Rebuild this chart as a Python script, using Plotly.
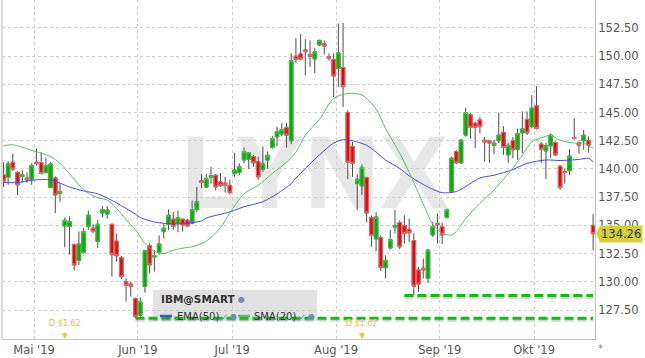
import pandas as pd
import plotly.graph_objects as go

# ---------------- data ----------------
holidays = ["2019-05-27", "2019-07-04", "2019-09-02"]
dates = [d for d in pd.bdate_range("2019-04-22", "2019-10-17")
         if d.strftime("%Y-%m-%d") not in holidays]

opens = [139.5, 139.25, 140.6, 139.7, 139.35, 139.2, 139.1, 140.6, 140.55, 139.7,
         138.35, 139.2, 137.85, 134.95, 134.9, 133.3, 131.9, 132.6, 134.9, 134.75,
         133.6, 136.1, 136.0, 135.1, 133.6, 132.15, 130.0, 129.8, 128.5, 127.05,
         129.6, 133.2, 132.2, 132.6, 134.45, 135.1, 135.55, 135.15, 135.55, 135.45,
         135.2, 136.4, 138.95, 138.4, 139.25, 139.45, 138.85, 138.75, 138.55, 139.6,
         139.7, 140.8, 140.85, 141.1, 140.65, 139.98, 140.8, 141.9, 142.85, 143.1,
         143.65, 142.5, 150.0, 150.2, 150.55, 150.15, 149.75, 151.0, 151.1, 149.95,
         149.7, 148.9, 149.0, 145.0, 142.0, 138.7, 138.5, 139.25, 135.7, 133.8,
         133.9, 131.25, 133.0, 134.85, 135.25, 135.0, 134.65, 133.65, 131.05, 131.2,
         130.3, 134.15, 135.15, 134.9, 135.7, 138.0, 141.55, 140.55, 143.0, 144.8,
         144.05, 144.35, 142.55, 142.5, 142.1, 142.5, 143.25, 141.25, 142.5, 141.75,
         143.2, 144.4, 143.75, 145.6, 142.2, 141.6, 142.05, 142.35, 140.25, 139.75,
         139.85, 142.8, 142.3, 142.5, 142.5, 135.0]
highs = [140.6, 140.7, 141.35, 139.8, 139.9, 139.7, 140.5, 141.8, 141.5, 141.0,
         140.6, 139.35, 138.75, 135.7, 135.8, 133.4, 134.45, 134.75, 136.3, 135.1,
         135.5, 136.7, 136.7, 135.1, 134.25, 132.3, 130.3, 130.0, 128.6, 128.6,
         132.8, 133.4, 132.8, 134.1, 135.2, 136.4, 136.2, 136.3, 135.6, 135.6,
         137.2, 138.4, 139.55, 139.55, 140.2, 139.55, 139.65, 139.3, 139.05, 141.45,
         140.5, 141.9, 141.5, 141.25, 141.1, 142.0, 141.55, 142.95, 143.75, 144.05,
         144.1, 150.25, 151.6, 151.95, 151.5, 151.4, 150.7, 151.45, 151.4, 150.25,
         150.25, 152.9, 152.95, 145.2, 142.4, 139.55, 140.4, 139.3, 135.9, 136.2,
         134.1, 132.35, 134.6, 136.35, 135.45, 135.9, 135.6, 134.3, 131.3, 132.05,
         132.9, 135.3, 136.05, 135.25, 136.5, 141.1, 141.7, 142.65, 145.45, 144.95,
         144.2, 144.6, 142.85, 142.6, 142.6, 145.0, 143.8, 142.35, 142.85, 143.6,
         145.1, 145.1, 146.55, 147.35, 142.4, 142.3, 143.15, 142.45, 140.35, 140.05,
         141.75, 144.5, 142.45, 143.45, 142.9, 136.0]
lows = [138.4, 138.6, 139.8, 137.7, 138.75, 138.8, 138.6, 140.3, 139.5, 139.6,
        138.3, 136.1, 137.1, 133.05, 132.4, 131.0, 131.5, 132.5, 134.6, 134.3,
        133.0, 135.7, 135.6, 130.45, 131.8, 130.25, 128.25, 128.7, 126.78, 126.9,
        129.05, 130.75, 130.9, 132.4, 133.85, 134.6, 134.6, 134.4, 134.45, 134.9,
        135.1, 136.2, 138.3, 138.3, 138.7, 138.1, 138.4, 137.9, 137.75, 139.3,
        139.45, 140.5, 140.0, 140.2, 139.05, 139.75, 140.05, 141.8, 142.0, 142.9,
        141.9, 142.2, 149.4, 149.65, 148.3, 149.05, 148.5, 150.9, 150.15, 149.6,
        146.35, 147.3, 145.5, 139.1, 139.3, 136.35, 137.7, 135.3, 133.1, 132.7,
        130.95, 130.3, 132.85, 134.3, 132.9, 133.4, 133.55, 128.78, 129.1, 130.3,
        129.9, 134.0, 133.4, 133.35, 135.6, 137.9, 140.45, 140.45, 142.85, 142.7,
        141.85, 143.15, 140.65, 140.55, 141.3, 142.3, 141.25, 140.55, 140.95, 140.8,
        141.4, 143.0, 143.6, 143.5, 140.55, 139.1, 140.95, 141.15, 138.15, 138.7,
        139.45, 142.6, 141.35, 141.7, 141.45, 132.8]
closes = [138.9, 140.45, 140.0, 138.6, 139.5, 139.05, 140.3, 140.5, 139.6, 140.3,
          140.45, 137.7, 138.0, 135.45, 135.35, 131.5, 133.35, 134.45, 135.9, 134.45,
          135.1, 136.4, 136.35, 132.4, 132.3, 130.45, 129.7, 129.6, 126.95, 128.25,
          132.75, 131.5, 132.3, 133.35, 134.75, 135.9, 134.9, 135.7, 135.05, 134.95,
          136.4, 137.1, 138.8, 139.15, 139.4, 138.4, 138.55, 138.55, 137.9, 139.9,
          140.2, 141.55, 141.45, 140.55, 139.3, 140.43, 141.2, 142.7, 143.3, 143.5,
          143.0, 149.6, 149.7, 149.75, 150.4, 150.0, 150.4, 151.4, 150.9, 149.8,
          148.25, 150.3, 147.3, 140.6, 140.5, 139.1, 140.15, 136.1, 134.1, 135.75,
          131.25, 131.9, 133.75, 135.0, 133.1, 134.3, 134.35, 129.6, 129.8, 131.05,
          132.8, 134.9, 135.05, 134.15, 136.4, 140.95, 140.55, 142.55, 145.0, 143.7,
          143.7, 143.75, 142.4, 142.3, 142.3, 143.0, 141.9, 142.1, 141.7, 143.15,
          143.55, 143.2, 145.4, 143.6, 141.75, 142.05, 143.0, 141.25, 138.35, 139.7,
          141.15, 142.7, 142.1, 143.0, 142.1, 134.26]

# moving averages (candle number -> value)
sma_at = [0, 2, 6, 10, 12, 14, 16, 18, 20, 22, 24, 26, 28, 30, 32, 34, 36, 39, 40, 43,
          46, 48, 51, 54, 57, 60, 62, 64, 67, 70, 73, 76, 79, 81, 84, 86, 89, 91, 93,
          95, 96, 98, 101, 104, 108, 110, 112, 115, 116, 118, 121, 123, 124, 125]
sma_val = [142.05, 142.15, 141.65, 141.1, 140.5, 139.6, 138.6, 137.85, 137.45, 137.25,
           136.5, 135.5, 134.6, 133.4, 132.7, 132.5, 132.8, 133.05, 133.1, 133.6,
           134.8, 136.1, 137.8, 138.55, 139.6, 140.6, 141.5, 143.0, 144.4, 146.25,
           146.7, 146.55, 145.3, 143.6, 141.4, 139.7, 136.9, 135.1, 134.3, 134.15,
           134.45, 135.6, 136.95, 138.15, 140.1, 141.25, 142.4, 142.9, 143.0, 142.55,
           142.3, 142.3, 142.05, 141.85]
ema_at = [0, 3, 6, 10, 12, 14, 17, 20, 24, 26, 28, 29, 32, 36, 39, 42, 43, 48, 51, 55,
          58, 61, 62, 63, 64, 67, 70, 72, 74, 77, 79, 81, 84, 86, 90, 93, 96, 98, 101,
          104, 108, 111, 115, 118, 122, 124, 125]
ema_val = [138.8, 138.8, 139.0, 139.05, 138.75, 138.4, 138.05, 137.8, 137.0, 136.5,
           136.0, 135.7, 135.3, 135.13, 135.2, 135.4, 135.65, 136.2, 136.65, 137.1,
           137.8, 138.7, 139.2, 139.6, 140.05, 141.25, 142.3, 142.6, 142.5, 142.1,
           141.5, 140.8, 140.05, 139.4, 138.4, 137.9, 138.0, 138.45, 139.2, 139.45,
           139.95, 140.5, 140.8, 140.75, 140.85, 140.95, 140.65]

support_start = ["2019-05-31", "2019-08-21"]
support_level = [126.78, 128.78]

div_dates = ["2019-05-09", "2019-08-08"]
div_amount = [1.62, 1.62]

month_numbers = [5, 6, 7, 8, 9, 10]
month_labels = ["Mai '19", "Jun '19", "Jul '19", "Aug '19", "Sep '19", "Okt '19"]
y_ticks = [127.5, 130.0, 132.5, 135.0, 137.5, 140.0, 142.5, 145.0, 147.5, 150.0, 152.5]

# ---------------- helpers ----------------
n = len(dates)
xs = list(range(n))
date_str = [d.strftime("%Y-%m-%d") for d in dates]
idx_of = {s: i for i, s in enumerate(date_str)}
month_pos = [next(i for i, d in enumerate(dates) if d.month == m) - 0.5 for m in month_numbers]

W_FIG, H_FIG = 645, 358
ML, MR, MT, MB = 2, 50, 0, 19
PW, PH = W_FIG - ML - MR, H_FIG - MT - MB
YR = [124.93, 154.98]


def pxx(px):
    return (px - ML) / PW


def pxy(py):
    return 1 - (py - MT) / PH


GREEN, GREEN_EDGE = "#0aa90a", "#45c045"
RED, RED_EDGE = "#d80f0f", "#ec6b6b"
WICK = "#4d4d4d"
FONT = "DejaVu Sans"

fig = go.Figure()

# wicks
fig.add_trace(go.Candlestick(
    x=xs, open=opens, high=highs, low=lows, close=closes,
    increasing=dict(line=dict(color=WICK, width=1), fillcolor=GREEN),
    decreasing=dict(line=dict(color=WICK, width=1), fillcolor=RED),
    hoverinfo="skip", showlegend=False))
# bodies
body_hi = [max(o, c) for o, c in zip(opens, closes)]
body_lo = [min(o, c) for o, c in zip(opens, closes)]
fig.add_trace(go.Candlestick(
    x=xs, open=opens, high=body_hi, low=body_lo, close=closes,
    increasing=dict(line=dict(color=GREEN_EDGE, width=1), fillcolor=GREEN),
    decreasing=dict(line=dict(color=RED_EDGE, width=1), fillcolor=RED),
    hoverinfo="skip", showlegend=False))

fig.add_trace(go.Scatter(x=ema_at, y=ema_val, mode="lines",
                         line=dict(color="#4b4bd9", width=1, shape="spline", smoothing=0.8),
                         hoverinfo="skip", showlegend=False))
fig.add_trace(go.Scatter(x=sma_at, y=sma_val, mode="lines",
                         line=dict(color="#5dbd69", width=1, shape="spline", smoothing=0.8),
                         hoverinfo="skip", showlegend=False))

# support lines with shadow
for s, lvl in zip(support_start, support_level):
    i0 = idx_of[s]
    fig.add_trace(go.Scatter(x=[i0, n - 1], y=[lvl - 0.17, lvl - 0.17], mode="lines",
                             line=dict(color="rgba(60,60,60,0.22)", width=3.5, dash="9px,4px"),
                             hoverinfo="skip", showlegend=False))
    fig.add_trace(go.Scatter(x=[i0, n - 1], y=[lvl, lvl], mode="lines",
                             line=dict(color="#1db41d", width=3, dash="9px,4px"),
                             hoverinfo="skip", showlegend=False))

shapes = []
annotations = []

# watermark
shapes.append(dict(type="rect", xref="paper", yref="paper",
                   x0=pxx(180), x1=pxx(450), y0=pxy(215), y1=pxy(108),
                   line=dict(width=0), fillcolor="rgba(0,0,0,0)", layer="below",
                   label=dict(text="LYNX", textposition="middle center",
                              font=dict(family="Liberation Sans, Arial, sans-serif",
                                        size=104, color="#e7e7e7", weight="bold"))))

# left border
shapes.append(dict(type="line", xref="paper", yref="paper", x0=0, x1=0, y0=0, y1=1,
                   line=dict(color="#dadada", width=2)))

# legend box
shapes.append(dict(type="rect", xref="paper", yref="paper",
                   x0=pxx(153), x1=pxx(317), y0=pxy(321), y1=pxy(290),
                   line=dict(width=0), fillcolor="#e2e2e2", layer="between"))
shapes.append(dict(type="line", xref="paper", yref="paper",
                   x0=pxx(160), x1=pxx(172), y0=pxy(316), y1=pxy(316),
                   line=dict(color="#4b4bd9", width=2.5)))
shapes.append(dict(type="line", xref="paper", yref="paper",
                   x0=pxx(238), x1=pxx(250), y0=pxy(316), y1=pxy(316),
                   line=dict(color="#5dbd69", width=2.5)))


def txt(px, py, s, size=10, color="#333333", bold=False, anchor="left"):
    annotations.append(dict(xref="paper", yref="paper", x=pxx(px), y=pxy(py),
                            xanchor=anchor, yanchor="middle", showarrow=False, text=s,
                            font=dict(family=FONT, size=size, color=color,
                                      weight="bold" if bold else "normal")))


txt(159, 299, "IBM@SMART", size=10.5, bold=True)
txt(236, 299, "●", size=8, color="#6f8fb3")
txt(175, 316, "EMA(50)", size=10)
txt(219, 317, "✓", size=8, color="#4f78b5")
txt(228, 316, "●", size=8, color="#6f8fb3")
txt(252, 316, "SMA(20)", size=10)
txt(297, 317, "✓", size=8, color="#4f78b5")
txt(306, 316, "●", size=8, color="#6f8fb3")

# dividends
for d, a in zip(div_dates, div_amount):
    i = idx_of[d]
    annotations.append(dict(x=i, xref="x", yref="paper", y=pxy(323), showarrow=False,
                            text=f"D ${a:.2f}", xanchor="center", yanchor="middle",
                            font=dict(family=FONT, size=8, color="#f0c23a")))
    annotations.append(dict(x=i, xref="x", yref="paper", y=0, ax=0, ay=-8,
                            showarrow=True, arrowhead=2, arrowsize=0.9, arrowwidth=1.3,
                            arrowcolor="#f0c23a", text=""))

# last price tag
last = closes[-1]
tag_y = (last - YR[0]) / (YR[1] - YR[0])
annotations.append(dict(xref="paper", yref="paper", x=1, y=tag_y, xanchor="left",
                        yanchor="middle", xshift=4, showarrow=False, text=f"{last:.2f}",
                        bgcolor="#d4d03c", borderpad=1,
                        font=dict(family=FONT, size=11.5, color="#333333")))
shapes.append(dict(type="path", xref="paper", yref="paper", xsizemode="pixel",
                   ysizemode="pixel", xanchor=1, yanchor=tag_y,
                   path="M 1,0 L 5,8 L 5,-8 Z", fillcolor="#d4d03c", line=dict(width=0)))

annotations.append(dict(xref="paper", yref="paper", x=1, y=0, xanchor="left",
                        yanchor="middle", xshift=1, yshift=-9, showarrow=False, text="*",
                        font=dict(family=FONT, size=10, color="#888888")))

fig.update_layout(
    width=W_FIG, height=H_FIG,
    margin=dict(l=ML, r=MR, t=MT, b=MB, pad=0),
    paper_bgcolor="white", plot_bgcolor="white",
    showlegend=False, boxgap=0.26, boxgroupgap=0,
    shapes=shapes, annotations=annotations,
    xaxis=dict(range=[-0.3, n - 0.6], tickvals=month_pos, ticktext=month_labels,
               showgrid=True, gridcolor="#cfcfcf", griddash="dot", gridwidth=1,
               showline=True, linecolor="#c4c4c4", linewidth=1, zeroline=False,
               ticks="", tickfont=dict(family=FONT, size=11.5, color="#555555"),
               rangeslider=dict(visible=False), fixedrange=True),
    yaxis=dict(range=YR, side="right", tickvals=y_ticks,
               ticktext=[f"{v:.2f}" for v in y_ticks],
               showgrid=True, gridcolor="#cfcfcf", griddash="dot", gridwidth=1,
               showline=True, linecolor="#c4c4c4", linewidth=1, zeroline=False,
               ticks="", tickfont=dict(family=FONT, size=11.5, color="#555555"),
               fixedrange=True),
)

fig.write_html("out.html", config={"displayModeBar": False},
               post_script="document.body.style.margin='0';document.body.style.overflow='hidden';")
